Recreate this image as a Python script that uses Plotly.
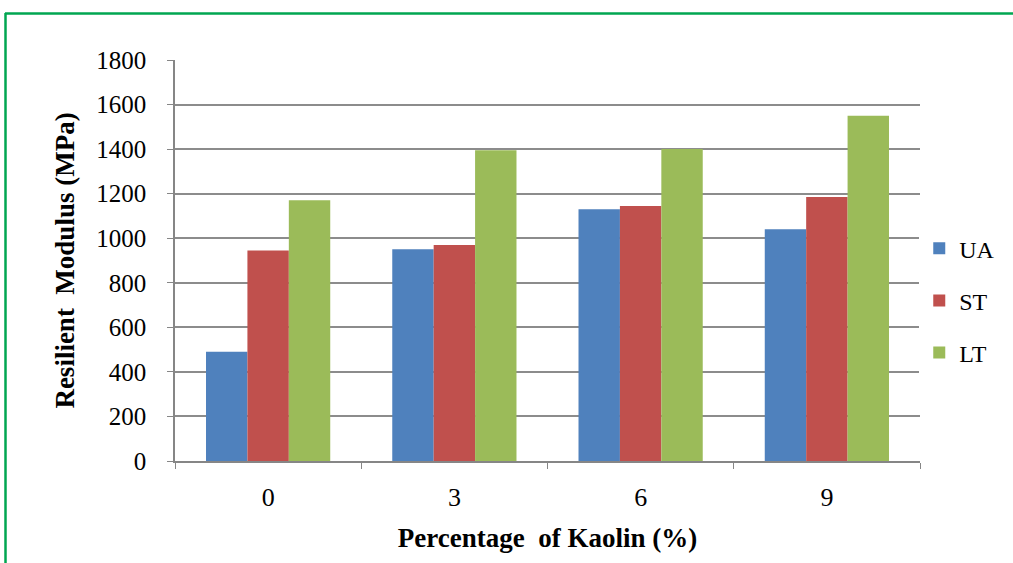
import plotly.graph_objects as go

categories = ["0", "3", "6", "9"]
series_names = ["UA", "ST", "LT"]
ua = [490, 950, 1130, 1040]
st = [945, 970, 1145, 1185]
lt = [1170, 1395, 1400, 1550]
colors = ["#4F81BD", "#C0504D", "#9BBB59"]
y_ticks = [0, 200, 400, 600, 800, 1000, 1200, 1400, 1600, 1800]

W, H = 1013, 563
ml, mr, mt, mb = 175, 93, 60, 102
pw, ph = W - ml - mr, H - mt - mb

def px_x(p):
    return (p - ml) / pw

def px_y(p):
    return (H - mb - p) / ph

fig = go.Figure()
for name, vals, c in zip(series_names, [ua, st, lt], colors):
    fig.add_trace(go.Bar(x=categories, y=vals, name=name, marker_color=c,
                         marker_line_width=0, legendgroup=name))

serif = "Liberation Serif, Times New Roman, serif"
fig.update_layout(
    width=W, height=H,
    margin=dict(l=ml, r=mr, t=mt, b=mb),
    paper_bgcolor="white", plot_bgcolor="white",
    barmode="group", bargap=0.333, bargroupgap=0,
    font=dict(family=serif, color="black", size=24),
    legend=dict(x=0.999, y=0.40, xanchor="left", yanchor="middle",
                font=dict(size=24, family=serif), tracegroupgap=18,
                itemwidth=30, traceorder="grouped", borderwidth=0),
    showlegend=True,
)
fig.update_xaxes(
    type="category", showline=True, linecolor="#868686", linewidth=1.5,
    ticks="outside", tickson="boundaries", ticklen=6, tickcolor="#868686",
    tickfont=dict(size=26, family=serif), ticklabelstandoff=12,
    title=dict(text="<b>Percentage&nbsp;&nbsp;of Kaolin (%)</b>", font=dict(size=27, family=serif), standoff=17),
    showgrid=False,
)
fig.update_yaxes(
    range=[0, 1800], tickvals=y_ticks, showline=True, linecolor="#868686", linewidth=1.5,
    ticks="outside", ticklen=6, tickcolor="#868686",
    showgrid=True, gridcolor="#8C8C8C", gridwidth=1.5,
    tickfont=dict(size=25, family=serif), ticklabelstandoff=16,
    title=dict(text="<b>Resilient&nbsp;&nbsp;Modulus (MPa)</b>", font=dict(size=27, family=serif), standoff=14),
    zeroline=False,
)
border = "#00A651"
fig.add_shape(type="line", xref="paper", yref="paper",
              x0=px_x(5), x1=px_x(1013), y0=px_y(13.5), y1=px_y(13.5),
              line=dict(color=border, width=2.5))
fig.add_shape(type="line", xref="paper", yref="paper",
              x0=px_x(5.5), x1=px_x(5.5), y0=px_y(13), y1=px_y(563),
              line=dict(color=border, width=2.5))

fig.write_html("out.html", config={"displayModeBar": False},
               post_script="document.body.style.margin='0';")
